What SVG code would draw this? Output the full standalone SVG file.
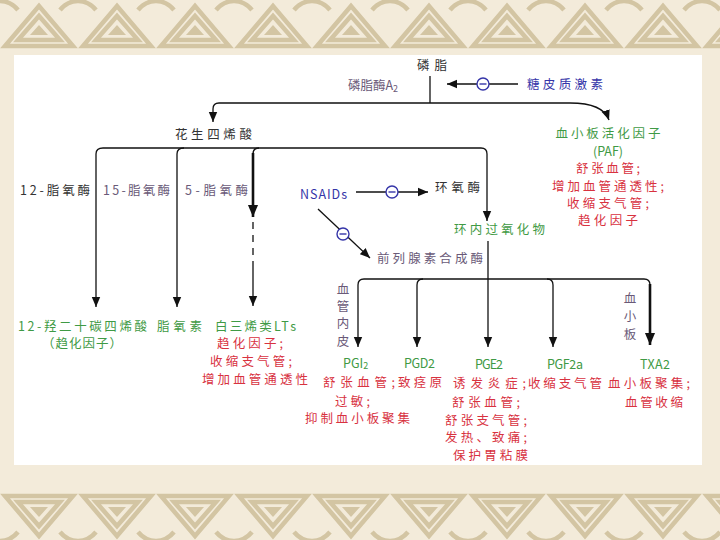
<svg xmlns="http://www.w3.org/2000/svg" width="720" height="540" viewBox="0 0 720 540">
<defs>
<style>
text{font-family:"Noto Sans CJK SC","Liberation Sans",sans-serif;font-size:12.5px;}
.k{fill:#333333}
.p{fill:#6a5a78}
.b{fill:#3535a8}
.g{fill:#3f9a45}
.r{fill:#d8323f}
.c{fill:none;stroke:#111;stroke-width:1.3}
.t{fill:none;stroke:#111;stroke-width:2.6}
.m{fill:#fff;stroke:#3535a8;stroke-width:1.4}
.ml{stroke:#3535a8;stroke-width:1.4}
.band{fill:none;stroke:#d3c5a3;stroke-width:4.5}
</style>
<marker id="arr" viewBox="0 0 10 10" refX="10" refY="5" markerWidth="10" markerHeight="10" markerUnits="userSpaceOnUse" orient="auto"><path d="M0,0.8 L10,5 L0,9.2 z" fill="#111"/></marker>
<marker id="arrB" viewBox="0 0 10 10" refX="10" refY="5" markerWidth="12" markerHeight="12" markerUnits="userSpaceOnUse" orient="auto"><path d="M0,0.8 L10,5 L0,9.2 z" fill="#111"/></marker>
<pattern id="topband" x="0" y="0" width="78" height="50" patternUnits="userSpaceOnUse">
<path class="band" d="M5,46 L39,6 L73,46 z"/>
<path class="band" d="M18,40 L39,16 L60,40 z"/>
<path d="M30,35 L39,25 L48,35 z" fill="#d3c5a3"/>
<path class="band" d="M60,10 C70,-2 86,-2 96,10"/>
<path class="band" d="M-18,10 C-8,-2 8,-2 18,10"/>
</pattern>
<pattern id="botband" x="0" y="492" width="78" height="48" patternUnits="userSpaceOnUse">
<path class="band" d="M5,4 L39,44 L73,4 z"/>
<path class="band" d="M18,10 L39,34 L60,10 z"/>
<path d="M30,15 L39,25 L48,15 z" fill="#d3c5a3"/>
<path class="band" d="M60,40 C70,52 86,52 96,40"/>
<path class="band" d="M-18,40 C-8,52 8,52 18,40"/>
</pattern>
</defs>

<g id="background">
<rect width="720" height="540" fill="#f3ebda"/>
<rect x="0" y="0" width="720" height="50" fill="url(#topband)"/>
<rect x="0" y="492" width="720" height="48" fill="url(#botband)"/>
<rect x="14" y="55" width="688" height="410" fill="#ffffff"/>
</g>

<g id="connectors">
<path class="c" d="M430,76 V103"/>
<path class="c" d="M430,103 H219 Q213,103 213,109 V122" marker-end="url(#arr)"/>
<path class="c" d="M430,103 H570 Q603,103 609,120" marker-end="url(#arr)"/>
<path class="c" d="M518,84 H447" marker-end="url(#arr)"/>
<path class="c" d="M103,148 H481 Q487,148 487,154 V221" marker-end="url(#arr)"/>
<path class="c" d="M103,148 Q96,148 96,154 V307" marker-end="url(#arr)"/>
<path class="c" d="M184,148 Q177,148 177,154 V307" marker-end="url(#arr)"/>
<path class="c" d="M259,148 Q253,148 253,154"/>
<path class="t" d="M253,153 V217" marker-end="url(#arrB)"/>
<path class="c" d="M253,222 V266" stroke-dasharray="7,6"/>
<path class="c" d="M253,266 V306" marker-end="url(#arr)"/>
<path class="c" d="M356,192 H428" marker-end="url(#arr)"/>
<path class="c" d="M318,209 L370,258" marker-end="url(#arr)"/>
<path class="c" d="M488,241 V347" marker-end="url(#arr)"/>
<path class="c" d="M364,279 H644"/>
<path class="c" d="M364,279 Q358,279 358,285 V347" marker-end="url(#arr)"/>
<path class="c" d="M423,279 Q417,279 417,285 V347" marker-end="url(#arr)"/>
<path class="c" d="M547,279 Q553,279 553,285 V347" marker-end="url(#arr)"/>
<path class="c" d="M644,279 Q650,279 650,285"/>
<path class="t" d="M650,284 V345" marker-end="url(#arrB)"/>
<circle class="m" cx="483" cy="84" r="6"/><line class="ml" x1="479.5" y1="84" x2="486.5" y2="84"/>
<circle class="m" cx="392" cy="192" r="6"/><line class="ml" x1="388.5" y1="192" x2="395.5" y2="192"/>
<circle class="m" cx="343" cy="234" r="6"/><line class="ml" x1="339.5" y1="234" x2="346.5" y2="234"/>
</g>

<g id="phospholipid"><text class="k" x="417" y="70" textLength="30">磷脂</text></g>
<g id="pla2"><text class="p" x="348" y="90">磷脂酶A<tspan font-size="9" dy="2">2</tspan></text></g>
<g id="glucocorticoid"><text class="b" x="527" y="89" textLength="76">糖皮质激素</text></g>
<g id="arachidonic"><text class="k" x="175" y="139" textLength="77">花生四烯酸</text></g>
<g id="paf">
<text class="g" x="608" y="138" text-anchor="middle" textLength="105">血小板活化因子</text>
<text class="g" x="608" y="156" text-anchor="middle">(PAF)</text>
<text class="r" x="608" y="173" text-anchor="middle" textLength="64">舒张血管;</text>
<text class="r" x="608" y="191" text-anchor="middle" textLength="112">增加血管通透性;</text>
<text class="r" x="608" y="208" text-anchor="middle" textLength="82">收缩支气管;</text>
<text class="r" x="608" y="225" text-anchor="middle" textLength="60">趋化因子</text>
</g>
<g id="lox12"><text class="k" x="20" y="195" textLength="70">12-脂氧酶</text></g>
<g id="lox15"><text class="p" x="103" y="195" textLength="67">15-脂氧酶</text></g>
<g id="lox5"><text class="p" x="185" y="195" textLength="63">5-脂氧酶</text></g>
<g id="nsaids"><text class="b" x="300" y="199" textLength="47">NSAIDs</text></g>
<g id="cox"><text class="k" x="435" y="192" textLength="45">环氧酶</text></g>
<g id="endoperoxide"><text class="g" x="454" y="234" textLength="91">环内过氧化物</text></g>
<g id="pgsynthase"><text class="p" x="377" y="263" textLength="106">前列腺素合成酶</text></g>
<g id="hete">
<text class="g" x="18" y="331" textLength="129">12-羟二十碳四烯酸</text>
<text class="g" x="42" y="348" textLength="80">（趋化因子）</text>
</g>
<g id="lipoxin"><text class="g" x="157" y="331" textLength="45">脂氧素</text></g>
<g id="leukotriene">
<text class="g" x="215" y="331" textLength="81">白三烯类LTs</text>
<text class="r" x="217" y="348" textLength="66">趋化因子;</text>
<text class="r" x="210" y="366" textLength="82">收缩支气管;</text>
<text class="r" x="202" y="384" textLength="106">增加血管通透性</text>
</g>
<g id="endothelium">
<text class="p" x="343" y="294" text-anchor="middle">血</text>
<text class="p" x="343" y="311" text-anchor="middle">管</text>
<text class="p" x="343" y="328" text-anchor="middle">内</text>
<text class="p" x="343" y="346" text-anchor="middle">皮</text>
</g>
<g id="platelet">
<text class="p" x="630" y="303" text-anchor="middle">血</text>
<text class="p" x="630" y="321" text-anchor="middle">小</text>
<text class="p" x="630" y="339" text-anchor="middle">板</text>
</g>
<g id="pgi2">
<text class="g" x="343" y="368">PGI<tspan font-size="9" dy="1">2</tspan></text>
<text class="r" x="323" y="387" textLength="72">舒张血管;</text>
<text class="r" x="335" y="406" textLength="35">过敏;</text>
<text class="r" x="305" y="423" textLength="105">抑制血小板聚集</text>
</g>
<g id="pgd2">
<text class="g" x="404" y="368" textLength="31">PGD2</text>
<text class="r" x="398" y="387" textLength="44">致痉原</text>
</g>
<g id="pge2">
<text class="g" x="475" y="369" textLength="28">PGE2</text>
<text class="r" x="453" y="388" textLength="73">诱发炎症;</text>
<text class="r" x="452" y="407" textLength="68">舒张血管;</text>
<text class="r" x="445" y="425" textLength="82">舒张支气管;</text>
<text class="r" x="445" y="442" textLength="82">发热、致痛;</text>
<text class="r" x="453" y="460" textLength="75">保护胃粘膜</text>
</g>
<g id="pgf2a">
<text class="g" x="547" y="369" textLength="36">PGF2a</text>
<text class="r" x="528" y="388" textLength="74">收缩支气管</text>
</g>
<g id="txa2">
<text class="g" x="640" y="369" textLength="30">TXA2</text>
<text class="r" x="608" y="388" textLength="82">血小板聚集;</text>
<text class="r" x="625" y="407" textLength="58">血管收缩</text>
</g>
</svg>
